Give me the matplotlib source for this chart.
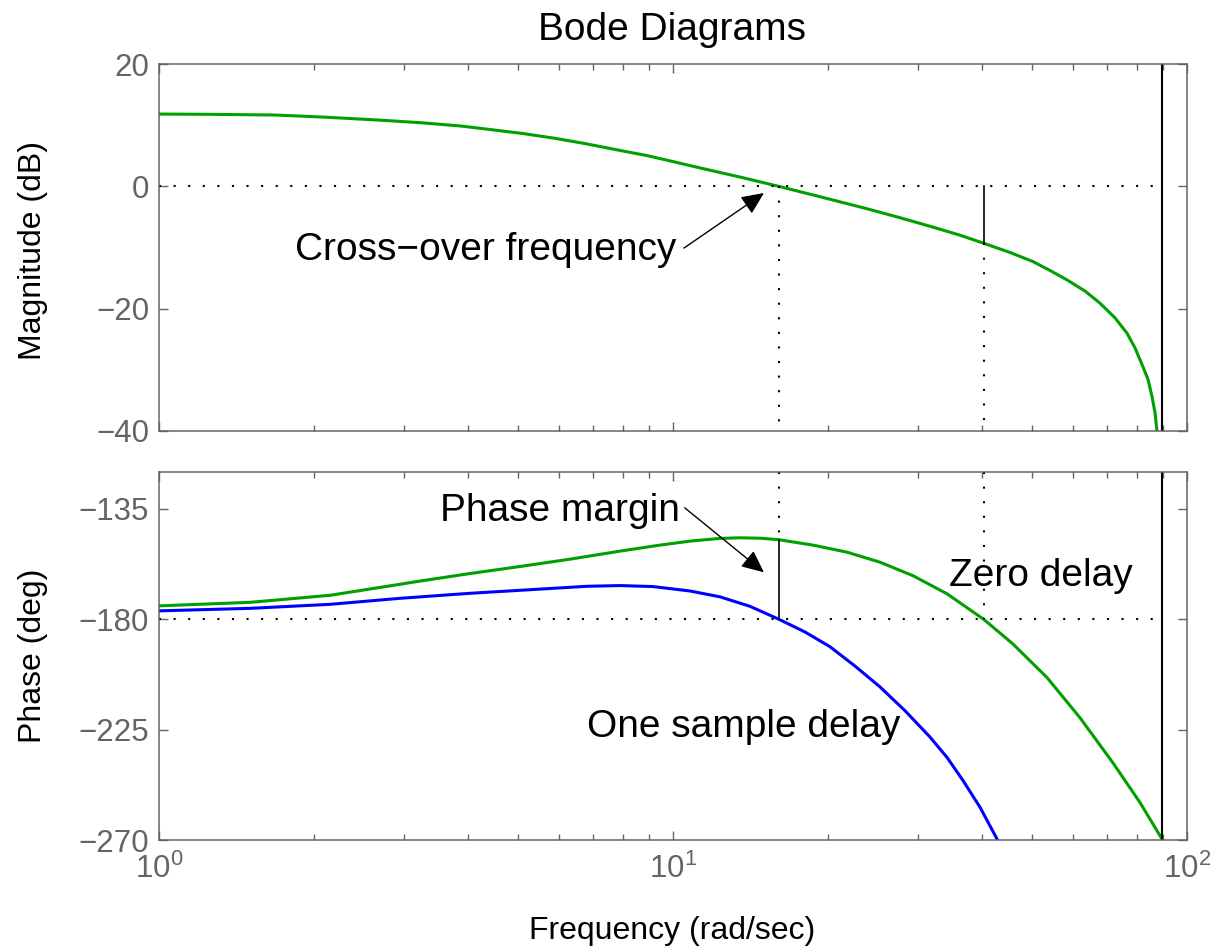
import matplotlib.pyplot as plt
from matplotlib.ticker import LogLocator, NullFormatter

# ---- DATA ----
# magnitude of the loop, zero delay
mag_w = [1.0, 1.257, 1.681, 2.103, 2.668, 3.22, 3.868, 4.405, 5.109, 5.894, 6.743,
         7.713, 8.941, 10.09, 11.29, 13.5, 16.06, 19.49, 23.74, 27.65, 32.05, 36.18,
         40.2, 45.25, 50.15, 54.15, 58.42, 63.32, 67.72, 72.42, 76.43, 79.2, 82.1,
         84.0, 85.5, 86.65, 87.4]
mag_db = [11.82, 11.77, 11.66, 11.31, 10.84, 10.41, 9.86, 9.29, 8.63, 7.85, 6.99,
          6.03, 4.99, 3.97, 3.01, 1.52, 0.0, -1.78, -3.62, -5.13, -6.67, -7.99,
          -9.3, -10.81, -12.3, -13.76, -15.3, -17.12, -19.1, -21.5, -24.0, -26.4, -29.5,
          -31.6, -34.4, -37.0, -40.0]

# phase, zero delay (green)
phase0_w = [1.0, 1.503, 2.151, 2.943, 3.22, 4.029, 5.039, 6.304, 7.885, 9.435, 10.79,
            12.34, 13.5, 14.77, 16.06, 18.72, 21.8, 25.27, 29.31, 34.13, 40.2, 45.86,
            53.42, 61.92, 71.78, 81.03, 89.4]
phase0_deg = [-174.56, -173.13, -170.26, -165.76, -164.45, -161.38, -158.52, -155.53,
              -152.26, -149.8, -148.17, -147.06, -146.82, -146.98, -147.6, -149.8,
              -152.67, -156.76, -162.28, -169.65, -180.0, -190.11, -203.81, -220.18,
              -238.59, -254.75, -269.6]

# phase, one sample delay (blue)
phase1_w = [1.0, 1.503, 2.151, 2.943, 4.029, 5.039, 6.803, 7.885, 9.145, 10.79, 12.34,
            14.12, 16.06, 18.06, 20.2, 22.6, 25.27, 28.28, 31.62, 34.13, 36.66, 39.57,
            42.7]
phase1_deg = [-176.6, -175.58, -173.94, -171.49, -169.44, -168.22, -166.58, -166.29,
              -166.7, -168.5, -170.88, -174.76, -180.0, -185.2, -191.21, -199.11,
              -207.58, -217.32, -228.04, -236.34, -245.75, -256.68, -269.6]

# margins
w_cross = 16.06      # gain cross-over (rad/s)
pm_phase = -147.6    # phase at cross-over
w_pc = 40.2          # phase cross-over (rad/s)
gm_db = -9.3         # magnitude at phase cross-over
w_nyq = 89.6         # Nyquist frequency

mag_ticks = [-40, -20, 0, 20]
phase_ticks = [-270, -225, -180, -135]

# ---- STYLE ----
plt.rcParams['font.family'] = ['Liberation Sans', 'DejaVu Sans']
plt.rcParams['mathtext.fontset'] = 'custom'
plt.rcParams['mathtext.rm'] = 'Liberation Sans'

W, H = 1213, 948
grey = '#646464'
green = '#00a000'
dotted = dict(color='k', lw=1.5, ls=(0, (1, 6)))

fig = plt.figure(figsize=(W / 100, H / 100), dpi=100)
ax1 = fig.add_axes([159 / W, 1 - 431 / H, 1028 / W, 367 / H])
ax2 = fig.add_axes([159 / W, 1 - 840 / H, 1028 / W, 368 / H])

# ---- MAGNITUDE ----
ax1.plot(mag_w, mag_db, color=green, lw=2.2)
ax1.plot([1, w_nyq], [0, 0], **dotted)
ax1.plot([w_cross, w_cross], [0, -40], **dotted)
ax1.plot([w_pc, w_pc], [0, gm_db], color='k', lw=1.2)
ax1.plot([w_pc, w_pc], [gm_db, -40], **dotted)
ax1.axvline(w_nyq, color='k', lw=1.5)

# ---- PHASE ----
ax2.plot(phase0_w, phase0_deg, color=green, lw=2.2)
ax2.plot(phase1_w, phase1_deg, color='#0000ff', lw=2.2)
ax2.plot([1, w_nyq], [-180, -180], **dotted)
ax2.plot([w_cross, w_cross], [-120, pm_phase], **dotted)
ax2.plot([w_cross, w_cross], [pm_phase, -180], color='k', lw=1.2)
ax2.plot([w_pc, w_pc], [-120, -180], **dotted)
ax2.axvline(w_nyq, color='k', lw=1.5)

# ---- AXES FORMATTING ----
for ax in (ax1, ax2):
    ax.set_xscale('log')
    ax.set_xlim(1, 100)
    ax.xaxis.set_minor_locator(LogLocator(base=10, subs=range(2, 10)))
    ax.xaxis.set_minor_formatter(NullFormatter())
    ax.tick_params(which='both', direction='in', top=True, right=True,
                   colors=grey, labelsize=22.5, width=1.0)
    ax.tick_params(which='major', length=6.5)
    ax.tick_params(which='minor', length=4)
    ax.tick_params(axis='y', pad=7)
    ax.tick_params(axis='x', pad=10)
    for sp in ax.spines.values():
        sp.set_color(grey)
        sp.set_linewidth(1.1)

ax1.set_ylim(-40, 20)
ax1.set_yticks(mag_ticks)
ax1.tick_params(labelbottom=False)
ax2.set_ylim(-270, -120)
ax2.set_yticks(phase_ticks)

# ---- TEXT ----
fig.text(672 / W, 1 - 40 / H, 'Bode Diagrams', ha='center', va='baseline', fontsize=28)
fig.text(672 / W, 1 - 939 / H, 'Frequency (rad/sec)', ha='center', va='baseline', fontsize=23)
fig.text(33 / W, 1 - 250 / H, 'Magnitude (dB)', ha='center', va='center',
         rotation=90, fontsize=23)
fig.text(33 / W, 1 - 656 / H, 'Phase (deg)', ha='center', va='center',
         rotation=90, fontsize=23)

arrow = dict(arrowstyle='-|>,head_length=0.55,head_width=0.25', mutation_scale=25,
             color='k', lw=1.0, shrinkA=0, shrinkB=0)

ax1.text(1.84, -12.05, 'Cross\u2212over frequency', ha='left', va='baseline', fontsize=28)
ax1.annotate('', xy=(15.03, -1.1), xytext=(10.5, -10.1), arrowprops=arrow)

ax2.text(3.52, -140.1, 'Phase margin', ha='left', va='baseline', fontsize=28)
ax2.annotate('', xy=(15.03, -160.9), xytext=(10.54, -134.6), arrowprops=arrow)

ax2.text(34.4, -166.4, 'Zero delay', ha='left', va='baseline', fontsize=28)
ax2.text(27.65, -228.0, 'One sample delay', ha='right', va='baseline', fontsize=28)

plt.savefig('out.png', dpi=100)
